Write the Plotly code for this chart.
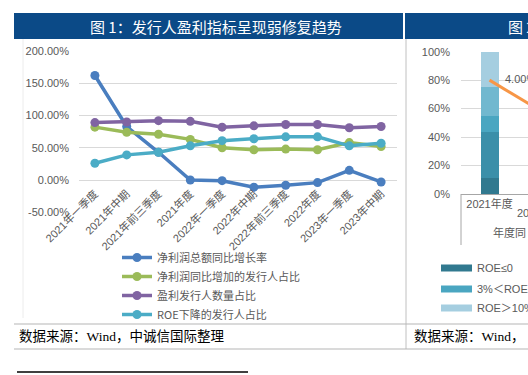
import plotly.graph_objects as go

W, H = 528, 375
def px(x): return x / W
def py(y): return 1 - y / H

# ---------------- data: left chart ----------------
categories = ["2021年一季度", "2021年中期", "2021年前三季度", "2021年度", "2022年一季度",
              "2022年中期", "2022年前三季度", "2022年度", "2023年一季度", "2023年中期"]
net_profit_growth = [162, 83, 43, 0, -1, -11, -8, -4, 15, -3]
profit_increase_share = [82, 74, 71, 63, 50, 47, 48, 47, 58, 52]
profitable_share = [89, 90, 92, 91, 82, 84, 86, 86, 81, 83]
roe_decline_share = [26, 39, 43, 53, 61, 64, 67, 67, 53, 57]
series_names = ["净利润总额同比增长率", "净利润同比增加的发行人占比", "盈利发行人数量占比", "ROE下降的发行人占比"]
series_colors = ["#4a7ebf", "#9bbb59", "#8064a2", "#4bacc6"]
y_tickvals = [-50, 0, 50, 100, 150, 200]
y_ticktext = ["-50.00%", "0.00%", "50.00%", "100.00%", "150.00%", "200.00%"]

# ---------------- data: right chart (partially visible) ----------------
r_categories = [0, 1]
r_cat_labels = ["2021年度", "2022年度"]
roe_bins = ["ROE≤0", "0＜ROE≤3%", "3%＜ROE≤5%", "5%＜ROE≤10%", "ROE＞10%"]
roe_bin_values = [[11.5], [32.0], [11.2], [20.7], [24.6]]
roe_bin_colors = ["#31798f", "#3b8fa9", "#4aa6c1", "#71b8cf", "#a5cee0"]
orange_line = [4.00, 3.05]
r_y_tickvals = [0, 20, 40, 60, 80, 100]
r_y_ticktext = ["0%", "20%", "40%", "60%", "80%", "100%"]

FONT = "Liberation Sans, Noto Sans CJK SC"
GRAY = "#595959"

fig = go.Figure()
for name, vals, col in zip(series_names,
                           [net_profit_growth, profit_increase_share, profitable_share, roe_decline_share],
                           series_colors):
    fig.add_trace(go.Scatter(x=categories, y=vals, name=name, mode="lines+markers",
                             line=dict(color=col, width=3.5), marker=dict(color=col, size=9),
                             xaxis="x", yaxis="y"))

for name, vals, col in zip(roe_bins, roe_bin_values, roe_bin_colors):
    fig.add_trace(go.Bar(x=[r_categories[0]], y=vals, name=name, marker=dict(color=col, line=dict(width=0)),
                         width=0.4, xaxis="x2", yaxis="y2", showlegend=False))
fig.add_trace(go.Scatter(x=r_categories, y=orange_line, mode="lines", xaxis="x2", yaxis="y3",
                         line=dict(color="#f79646", width=3), showlegend=False))

# right-chart x range so that bar centre sits at pixel 489.5 with 45px per category
unit = 45.0
left_px, right_px = 461, 528
xr0 = -(489.5 - left_px) / unit
xr1 = xr0 + (right_px - left_px) / unit

fig.update_layout(
    width=W, height=H, margin=dict(l=0, r=0, t=0, b=0, pad=0, autoexpand=False),
    paper_bgcolor="white", plot_bgcolor="rgba(0,0,0,0)",
    barmode="stack",
    xaxis=dict(type="category", domain=[px(79), px(397)], range=[-0.5, 9.5],
               anchor="free", position=py(180.3), showgrid=False, showline=False, zeroline=False,
               tickangle=-45, ticks="", tickfont=dict(family=FONT, size=11, color=GRAY),
               ticklabelstandoff=4, automargin=False),
    yaxis=dict(domain=[py(212.3), py(51)], range=[-50, 200], tickvals=y_tickvals, ticktext=y_ticktext,
               showgrid=True, gridcolor="#d9d9d9", gridwidth=1, zeroline=False, showline=False,
               tickfont=dict(family=FONT, size=11, color=GRAY), ticklabelstandoff=9, automargin=False),
    xaxis2=dict(domain=[px(left_px), px(right_px)], range=[xr0, xr1], anchor="y2",
                tickvals=[0], ticktext=[r_cat_labels[0]], showgrid=False, zeroline=False,
                showline=True, linecolor="#a6a6a6", linewidth=1, ticks="",
                tickfont=dict(family=FONT, size=11, color=GRAY), automargin=False),
    yaxis2=dict(domain=[py(194), py(51.7)], range=[0, 100], anchor="x2",
                tickvals=r_y_tickvals, ticktext=r_y_ticktext, showgrid=True, gridcolor="#d9d9d9",
                zeroline=False, showline=False, tickfont=dict(family=FONT, size=11, color=GRAY),
                ticklabelstandoff=10, automargin=False),
    yaxis3=dict(overlaying="y2", range=[0, 5], visible=False, anchor="x2"),
    legend=dict(x=px(117), y=py(243), xanchor="left", yanchor="top", bgcolor="rgba(0,0,0,0)",
                font=dict(family="Noto Sans CJK SC", size=11, color=GRAY), itemwidth=30,
                tracegroupgap=0, traceorder="normal"),
    showlegend=True,
)

shapes = []
annotations = []
# data label of the orange line
annotations.append(dict(text=f"{orange_line[0]:.2f}%", xref="x2", yref="y3", x=r_categories[0],
                        y=orange_line[0], xanchor="left", yanchor="middle", xshift=13, yshift=1,
                        showarrow=False, font=dict(family=FONT, size=11, color=GRAY)))
# title bars
shapes.append(dict(type="rect", xref="paper", yref="paper", x0=px(14), x1=px(403), y0=py(39), y1=py(13),
                   fillcolor="#0b4a87", line=dict(width=0), layer="below"))
shapes.append(dict(type="rect", xref="paper", yref="paper", x0=px(405), x1=px(528), y0=py(39), y1=py(13),
                   fillcolor="#0b4a87", line=dict(width=0), layer="below"))
annotations.append(dict(text="图 1：发行人盈利指标呈现弱修复趋势", xref="paper", yref="paper",
                        x=px(216), y=py(26), xanchor="center", yanchor="middle", showarrow=False,
                        font=dict(family="Noto Sans CJK SC", size=15, color="white")))
annotations.append(dict(text="图 2", xref="paper", yref="paper",
                        x=px(506), y=py(26), xanchor="left", yanchor="middle", showarrow=False,
                        font=dict(family="Noto Sans CJK SC", size=15, color="white")))
# separators & borders
shapes.append(dict(type="line", xref="paper", yref="paper", x0=px(406), x1=px(406), y0=py(349), y1=py(39),
                   line=dict(color="#c0c0c0", width=1)))
shapes.append(dict(type="line", xref="paper", yref="paper", x0=px(23), x1=px(23), y0=py(318), y1=py(39),
                   line=dict(color="#ececec", width=1)))
for yy in (324, 349):
    shapes.append(dict(type="line", xref="paper", yref="paper", x0=px(14), x1=px(528), y0=py(yy), y1=py(yy),
                       line=dict(color="#b5b5b5", width=1)))
shapes.append(dict(type="line", xref="paper", yref="paper", x0=px(17), x1=px(248), y0=py(372), y1=py(372),
                   line=dict(color="black", width=1.5)))
# source notes
annotations.append(dict(text="数据来源：Wind，中诚信国际整理", xref="paper", yref="paper",
                        x=px(17), y=py(336.5), xanchor="left", yanchor="middle", showarrow=False,
                        font=dict(family="Liberation Serif, Noto Sans CJK SC", size=13.5, color="black")))
annotations.append(dict(text="数据来源：Wind，", xref="paper", yref="paper",
                        x=px(412), y=py(336.5), xanchor="left", yanchor="middle", showarrow=False,
                        font=dict(family="Liberation Serif, Noto Sans CJK SC", size=13.5, color="black")))
# right chart category box
shapes.append(dict(type="line", xref="paper", yref="paper", x0=px(461), x1=px(461), y0=py(245), y1=py(194),
                   line=dict(color="#a6a6a6", width=1)))
annotations.append(dict(text="20", xref="paper", yref="paper", x=px(515), y=py(213),
                        xanchor="left", yanchor="middle", showarrow=False,
                        font=dict(family=FONT, size=11, color=GRAY)))
annotations.append(dict(text="年度同", xref="paper", yref="paper", x=px(491), y=py(233),
                        xanchor="left", yanchor="middle", showarrow=False,
                        font=dict(family=FONT, size=11, color=GRAY)))
# right chart legend (visible first column)
leg_rows = [268, 289, 308]
leg_items = [0, 2, 4]
leg_text = ["ROE≤0", "3%＜ROE≤", "ROE＞10%"]
for rowy, idx, txt in zip(leg_rows, leg_items, leg_text):
    shapes.append(dict(type="rect", xref="paper", yref="paper", x0=px(441), x1=px(472),
                       y0=py(rowy + 3.5), y1=py(rowy - 3.5), fillcolor=roe_bin_colors[idx], line=dict(width=0)))
    annotations.append(dict(text=txt, xref="paper", yref="paper", x=px(475), y=py(rowy),
                            xanchor="left", yanchor="middle", showarrow=False,
                            font=dict(family=FONT, size=11, color=GRAY)))

fig.update_layout(shapes=shapes, annotations=annotations)
fig.write_html("out.html", config={"displayModeBar": False},
               post_script="document.body.style.margin='0';document.body.style.padding='0';")
